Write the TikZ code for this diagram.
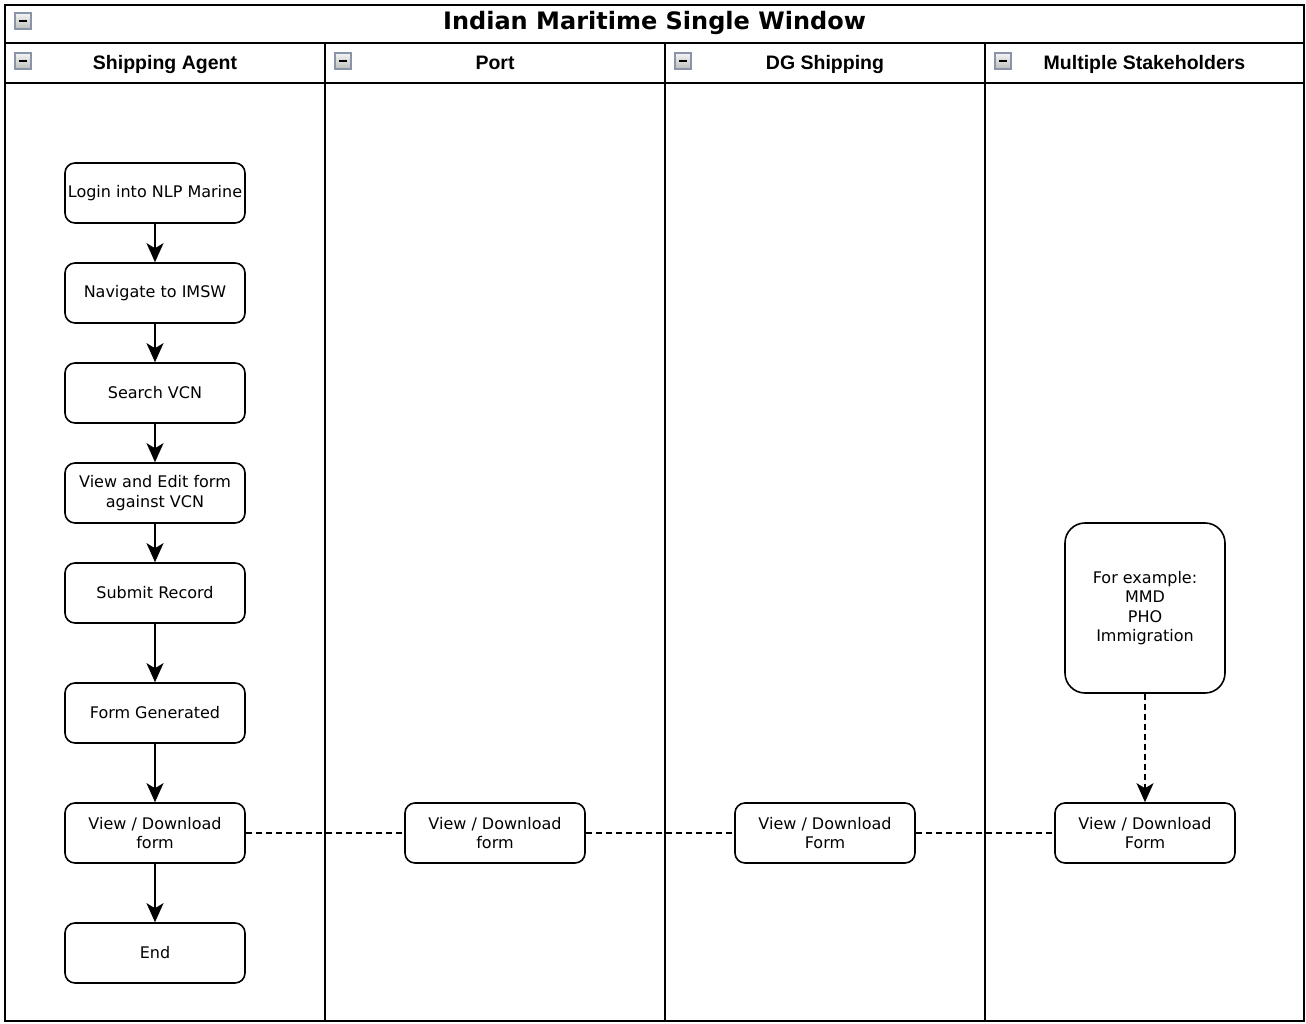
\documentclass[tikz,border=0pt]{standalone}
\usepackage{fontspec}
\newfontfamily\boxfont{DejaVu Sans}
\newfontfamily\lanefont{Liberation Sans}
\usetikzlibrary{arrows.meta}
\definecolor{iconedge}{HTML}{8A93A8}
\definecolor{icontop}{HTML}{F4F4F4}
\definecolor{iconbottom}{HTML}{BDBDBD}

\begin{document}
\begin{tikzpicture}[x=1pt,y=-1pt,
    lane/.style={line width=2pt},
    stepbox/.style={draw, line width=1.6pt, rounded corners=10pt, minimum width=180pt,
        minimum height=60pt, inner sep=0pt, align=center,
        font=\boxfont\fontsize{16}{19.5}\selectfont},
    flow/.style={line width=1.6pt, -{Stealth[length=19pt,width=17pt,inset=5pt]}},
    link/.style={line width=1.6pt, dash pattern=on 6pt off 4pt},
    lanehead/.style={anchor=base, font=\lanefont\bfseries\fontsize{19.5}{22}\selectfont},
    icon/.style={draw=iconedge, line width=1.3pt, top color=icontop, bottom color=iconbottom,
        minimum size=16pt, inner sep=0pt}]
    \useasboundingbox (0,0) rectangle (1306,1024);

    % pool and lanes
    \draw[lane] (5,5) rectangle (1304,1021);
    \draw[lane] (5,43) -- (1304,43);
    \draw[lane] (5,83) -- (1304,83);
    \foreach \x in {325, 665, 985} {
        \draw[lane] (\x,43) -- (\x,1021);
    }
    \node[anchor=base, font=\boxfont\bfseries\fontsize{24}{28}\selectfont] (title) at (654.5,30) {Indian Maritime Single Window};
    \node[icon] (icon0) at (23,21) {\rule{8pt}{2pt}};
    \foreach \l/\r/\t [count=\i] in {5/325/Shipping Agent, 325/665/Port, 665/985/DG Shipping, 985/1304/Multiple Stakeholders} {
        \node[lanehead] (head\i) at ({(\l+\r)/2},69.5) {\t};
        \node[icon] (icon\i) at (\l+18,61) {\rule{8pt}{2pt}};
    }

    % shipping agent
    \node[stepbox] (login) at (155,193) {Login into NLP Marine};
    \node[stepbox] (navigate) at (155,293) {Navigate to IMSW};
    \node[stepbox] (search) at (155,393) {Search VCN};
    \node[stepbox] (edit) at (155,493) {View and Edit form\\against VCN};
    \node[stepbox] (submit) at (155,593) {Submit Record};
    \node[stepbox] (generated) at (155,713) {Form Generated};
    \node[stepbox] (agentform) at (155,833) {View / Download\\form};
    \node[stepbox] (finish) at (155,953) {End};
    \foreach \a/\b in {login/navigate, navigate/search, search/edit, edit/submit, submit/generated, generated/agentform, agentform/finish} {
        \draw[flow] (\a) -- (\b);
    }

    % other lanes
    \node[stepbox] (portform) at (495,833) {View / Download\\form};
    \node[stepbox] (dgform) at (825,833) {View / Download\\Form};
    \node[stepbox] (otherform) at (1145,833) {View / Download\\Form};
    \node[stepbox, minimum width=160pt, minimum height=170pt, rounded corners=20pt] (example) at (1145,608) {For example:\\MMD\\PHO\\Immigration};

    \draw[link] (agentform) -- (portform);
    \draw[link] (portform) -- (dgform);
    \draw[link] (dgform) -- (otherform);
    \draw[link, flow] (example) -- (otherform);
\end{tikzpicture}
\end{document}
